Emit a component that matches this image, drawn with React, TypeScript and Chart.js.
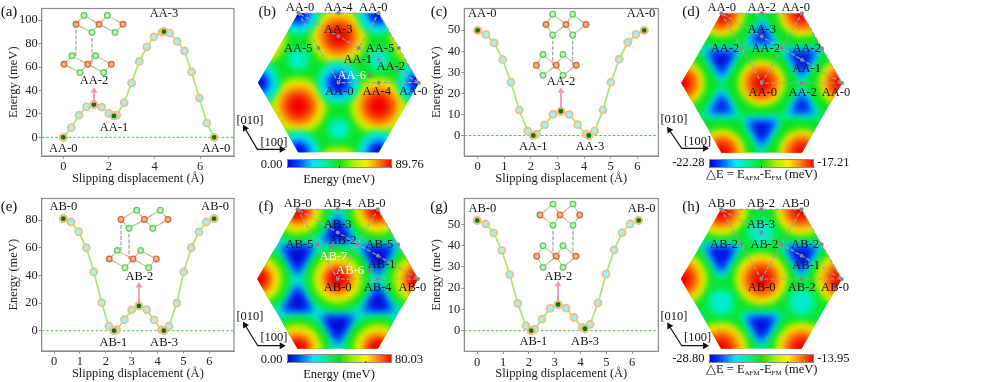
import React, { useEffect, useRef } from "react";
import { Chart, registerables } from "chart.js";
Chart.register(...registerables);

const SERIF = "'Liberation Serif', serif";
const GREY = "#8c8c8c";

// ---------- slipping curves (displacement in Å, energy in meV) ----------
const aX = [0, 0.35, 0.69, 1.02, 1.34, 1.68, 2.0, 2.22, 2.34, 2.67, 2.99, 3.33, 3.66, 3.97, 4.32, 4.41, 4.66, 4.99, 5.31, 5.62, 5.96, 6.29, 6.61];
const aY = [0, 8.3, 19, 26.3, 28, 25.8, 20.4, 18.3, 19, 29.6, 46.5, 64.8, 77.2, 85.8, 89.8, 90.3, 89, 82, 73.9, 55.9, 33.6, 12.1, 0];
const aKeyX = [0, 1.34, 2.22, 4.41, 6.61];
const aKeyY = [0, 28, 18.3, 90.3, 0];

const cX = [0, 0.31, 0.62, 0.94, 1.25, 1.56, 1.88, 2.09, 2.21, 2.51, 2.83, 3.13, 3.44, 3.76, 4.07, 4.18, 4.4, 4.71, 5.01, 5.32, 5.64, 5.95, 6.26];
const cY = [49.9, 48, 44, 36, 25.3, 12.1, 2.1, 0, 0.6, 5, 10, 11.5, 10, 5.1, 0.6, 0, 2.2, 12.1, 25.3, 36.2, 44.2, 48, 49.9];
const cKeyX = [0, 2.09, 3.13, 4.18, 6.26];
const cKeyY = [49.9, 0, 11.5, 0, 49.9];

const eX = [0.36, 0.66, 0.95, 1.25, 1.54, 1.84, 2.12, 2.32, 2.42, 2.72, 3.0, 3.28, 3.58, 3.86, 4.15, 4.24, 4.44, 4.74, 5.01, 5.3, 5.6, 5.88, 6.18];
const eY = [81, 78.6, 71.7, 60, 42.5, 20.3, 3.3, 0, 0.7, 8, 15.1, 17.9, 15.3, 7.8, 0.7, 0, 3.3, 20, 42.5, 60, 71.5, 78.6, 81];
const eKeyX = [0.36, 2.32, 3.28, 4.24, 6.18];
const eKeyY = [81, 0, 17.9, 0, 81];

const gX = [0, 0.33, 0.64, 0.95, 1.26, 1.57, 1.89, 2.09, 2.22, 2.51, 2.82, 3.13, 3.44, 3.75, 4.06, 4.17, 4.37, 4.68, 4.99, 5.3, 5.61, 5.92, 6.25];
const gY = [51.9, 50.2, 46, 37.8, 26.4, 12.8, 2.3, 0, 0.6, 5.4, 10.5, 12.3, 10.6, 6.2, 1.5, 0.9, 2.9, 13.1, 26.7, 38, 46.1, 50.2, 51.9];
const gKeyX = [0, 2.09, 3.13, 4.17, 6.25];
const gKeyY = [51.9, 0, 12.3, 0.9, 51.9];

// ---------- crystal-structure insets (page pixels) ----------
const insetA = {
  orange: [[76, 16.7], [99, 16.7], [123, 16.7], [64, 59], [87.7, 59], [111.3, 59]],
  green: [[84, 7.3], [107.3, 7.3], [92, 25.3], [115, 25.3], [72, 50], [95.7, 50], [80, 67.7], [103.7, 67.7]],
  dash: [[76, 16.7, 76, 50], [92, 25.3, 92, 59]],
};
const insetC = {
  orange: [[546, 17], [566, 17], [586, 17], [536.3, 60], [556.3, 60], [576.3, 60]],
  green: [[552.7, 6], [572.7, 6], [552.7, 28], [572.7, 28], [543, 48.7], [563, 48.7], [543, 70.7], [563, 70.7]],
  dash: [[552.7, 28, 552.7, 60], [572.7, 28, 572.7, 60]],
};
const insetE = {
  orange: [[121, 216.7], [144.3, 216.7], [168, 216.7], [109.3, 257], [133, 257], [156.3, 257]],
  green: [[136.7, 207.3], [160.3, 207.3], [129, 225.7], [152.7, 225.7], [117.3, 248.3], [140.7, 248.3], [125, 266], [148.7, 266]],
  dash: [[121, 216.7, 121, 248.3], [129, 225.7, 129, 257]],
};
const insetG = {
  orange: [[540, 212.7], [560, 212.7], [579.7, 212.7], [536.7, 254.7], [556.3, 254.7], [576, 254.7]],
  green: [[553, 201.7], [573, 201.7], [553, 223.3], [573, 223.3], [543, 244], [563, 244], [543, 266], [563, 266]],
  dash: [[553, 223.3, 553, 254.7], [573, 223.3, 573, 254.7]],
};

const linePanels = [
  { x0: 0, y0: 0, w: 240, h: 190, frame: [41.7, 0, 234, 156], xr: [-0.946, 7.48], yr: [-15.9, 110], xt: [0, 2, 4, 6], yt: [0, 20, 40, 60, 80, 100], xs: aX, ys: aY, kx: aKeyX, ky: aKeyY, inset: insetA, arrow: [94, 100, 94, 87], tx: 137.7, ty: 178.7, yx: 14 },
  { x0: 425, y0: 0, w: 240, h: 190, frame: [464.3, 0, 658.3, 156], xr: [-0.504, 6.79], yr: [-9.74, 60.3], xt: [0, 1, 2, 3, 4, 5, 6], yt: [0, 10, 20, 30, 40, 50], xs: cX, ys: cY, kx: cKeyX, ky: cKeyY, inset: insetC, arrow: [561, 105, 561, 87.3], tx: 561, ty: 178.7, yx: 437 },
  { x0: 0, y0: 190, w: 240, h: 192, frame: [41.7, 195.3, 234, 351], xr: [-0.475, 6.95], yr: [-14.66, 95.6], xt: [0, 1, 2, 3, 4, 5, 6], yt: [0, 20, 40, 60, 80], xs: eX, ys: eY, kx: eKeyX, ky: eKeyY, inset: insetE, arrow: [139, 301.7, 139, 284.3], tx: 137.7, ty: 374, yx: 14 },
  { x0: 425, y0: 190, w: 240, h: 192, frame: [464.3, 196, 658.3, 351.3], xr: [-0.5, 7.01], yr: [-9.72, 62.2], xt: [0, 1, 2, 3, 4, 5, 6], yt: [0, 10, 20, 30, 40, 50], xs: gX, ys: gY, kx: gKeyX, ky: gKeyY, inset: insetG, arrow: [558, 300, 558, 283.3], tx: 561, ty: 374, yx: 437 },
];

// ---------- potential-energy surfaces: lattice sites and contour levels ----------
const sitesA = [[0, 0], [-1, 0], [1, 0], [-0.5, 0.866], [0.5, 0.866], [-0.5, -0.866], [0.5, -0.866]];
const sitesB = [[-0.5, 0.289], [0.5, 0.289], [0, -0.577], [-1, -0.577], [1, -0.577], [0, 1.155], [-1.5, 0.289], [1.5, 0.289]];
const sitesC = [[0, 0.577], [-0.5, -0.289], [0.5, -0.289], [-1, 0.577], [1, 0.577], [-1.5, -0.289], [1.5, -0.289], [0, -1.155], [-1, -1.155], [1, -1.155]];

// [level, contour radius in lattice units], outer to inner
const bPeak = [[56, 0.36], [67, 0.3], [76, 0.25], [83, 0.19], [89.76, 0.12]];
const bWell = [[31, 0.27], [22, 0.21], [11, 0.15], [0, 0.09]];
const bShallow = [[34, 0.15], [25, 0.08]];
const dPeak = [[-19.14, 0.29], [-18.48, 0.26], [-17.97, 0.22], [-17.57, 0.17], [-17.21, 0.1]];
const dDeep = [[-20.35, 0.33], [-21, 0.285], [-21.67, 0.235], [-22.18, 0.15]];
const dWell = [[-20.35, 0.29], [-21, 0.245], [-21.67, 0.19], [-22.1, 0.1]];
const fPeak = [[28, 0.45], [34, 0.41], [40, 0.37], [50, 0.31], [60, 0.26], [70, 0.2], [80.03, 0.13]];
const fDeep = [[12, 0.27], [5, 0.21], [0, 0.13]];
const fWell = [[12, 0.25], [5, 0.19], [1, 0.12]];
const hPeak = [[-19.6, 0.33], [-17.7, 0.29], [-16.2, 0.24], [-15, 0.18], [-13.95, 0.11]];
const hDeep = [[-23.2, 0.33], [-25.1, 0.285], [-27.3, 0.235], [-28.5, 0.15]];
const hShallow = [[-23.2, 0.18], [-24.6, 0.11]];

const pathMain = [[-0.5, 0.866], [0.5, 0.866], [1, 0], [0, 0], [-0.5, 0.866], [1, 0], null, [0, 0], [0.5, 0.866]];
const pathDots = [[-0.5, 0.866], [0, 0.866], [0.5, 0.866], [0, 0.577], [-0.25, 0.433], [0.25, 0.433], [0.75, 0.433], [0.5, 0.289], [1, 0], [0.5, 0], [0, 0]];

const heatPanels = [
  { cx: 338.5, cy: 82.7, x0: 240, y0: 0, w: 200, h: 190, min: 0, max: 89.76, back: 43, bar: [287, 159, 391.7, 168.3], arrow: [257.3, 149.3, 281.7, 149.3, 245, 128.3], dotsExtra: [[0.73, 0.15]], tri: [[0.39, 0.09]],
    layers: [[sitesC, bPeak, "circle", 0], [sitesA, bWell, "circle", 0], [sitesB, bShallow, "circle", 0]] },
  { cx: 761.7, cy: 83, x0: 664, y0: 0, w: 200, h: 190, min: -22.28, max: -17.21, back: -19.85, bar: [709, 159, 814, 168.3], arrow: [681.7, 148.3, 705, 148.3, 669.3, 130], dotsExtra: [], tri: [],
    layers: [[sitesA, dPeak, "circle", 0], [sitesB, dDeep, "triangle", 180], [sitesC, dWell, "triangle", 0]] },
  { cx: 337.7, cy: 279, x0: 240, y0: 190, w: 200, h: 192, min: 0, max: 80.03, back: 24, bar: [287, 354.3, 391.7, 363.7], arrow: [257.7, 345.7, 281.7, 345.7, 245, 325], dotsExtra: [], tri: [[-0.07, 0.4], [0.4, 0.1]],
    layers: [[sitesA, fPeak, "circle", 0], [sitesB, fDeep, "triangle", 180], [sitesC, fWell, "triangle", 0]] },
  { cx: 761.3, cy: 279, x0: 664, y0: 190, w: 200, h: 192, min: -28.8, max: -13.95, back: -21.8, bar: [709, 354.3, 814, 363.7], arrow: [681.7, 345.7, 705, 345.7, 669.3, 326], dotsExtra: [], tri: [],
    layers: [[sitesA, hPeak, "circle", 0], [sitesB, hDeep, "triangle", 180], [sitesC, hShallow, "circle", 0]] },
];
const UNIT = 80.4;

// ---------- text ----------
const Z = (ox: number, oy: number, s = 3) => (list: any[]) => list.map(([t, x, y, c]) => [t, x / s + ox, y / s + oy, c]);
const textLabels = [
  ...Z(0, 0)([["AA-0", 190, 445], ["AA-2", 282, 240], ["AA-1", 342, 380], ["AA-3", 492, 38], ["AA-0", 648, 445]]),
  ...Z(440, 0)([["AA-0", 127, 38], ["AA-1", 280, 438]]),
  ...Z(500, 0)([["AA-2", 183, 243], ["AA-3", 270, 438], ["AA-0", 423, 38]]),
  ...Z(0, 190)([["AB-0", 190, 47], ["AB-2", 418, 258], ["AB-1", 340, 455], ["AB-3", 492, 455], ["AB-0", 645, 47]]),
  ...Z(440, 190)([["AB-0", 127, 53], ["AB-1", 280, 452]]),
  ...Z(500, 190)([["AB-2", 175, 258], ["AB-3", 255, 452], ["AB-0", 425, 53]]),
  ...Z(245, 0)([["AA-0", 165, 20], ["AA-4", 280, 20], ["AA-0", 385, 20], ["AA-3", 280, 87], ["AA-5", 160, 143], ["AA-5", 405, 143], ["AA-1", 338, 176], ["AA-2", 437, 198], ["AA-6", 320, 224, "#fff"], ["AA-0", 283, 272], ["AA-4", 395, 272], ["AA-0", 505, 272],
    ["0.00", 80, 491], ["89.76", 494, 491], ["Energy (meV)", 282, 537], ["[010]", 15, 360], ["[100]", 87, 425]]),
  ...Z(660, 0)([["AA-0", 185, 20], ["AA-2", 305, 20], ["AA-0", 407, 20], ["AA-3", 305, 88], ["AA-2", 195, 143], ["AA-2", 317, 143], ["AA-2", 440, 143], ["AA-1", 440, 205], ["AA-0", 308, 275], ["AA-2", 428, 275], ["AA-0", 528, 275],
    ["-22.28", 85, 487], ["-17.21", 520, 487], ["[010]", 42, 358], ["[100]", 113, 422]]),
  ...Z(245, 190)([["AB-0", 158, 39], ["AB-4", 278, 39], ["AB-0", 380, 39], ["AB-3", 278, 103], ["AB-5", 163, 161], ["AB-2", 293, 150], ["AB-5", 403, 161], ["AB-7", 265, 198, "#fff"], ["AB-1", 410, 223], ["AB-6", 315, 241, "#fff"], ["AB-0", 278, 291], ["AB-4", 398, 291], ["AB-0", 502, 291],
    ["0.00", 80, 507], ["80.03", 492, 507], ["Energy (meV)", 282, 553], ["[010]", 15, 378], ["[100]", 87, 441]]),
  ...Z(660, 190)([["AB-0", 185, 39], ["AB-2", 303, 39], ["AB-0", 407, 39], ["AB-3", 303, 103], ["AB-2", 192, 161], ["AB-2", 313, 161], ["AB-2", 435, 161], ["AB-1", 438, 224], ["AB-0", 305, 291], ["AB-2", 425, 291], ["AB-0", 525, 291],
    ["-28.80", 85, 503], ["-13.95", 520, 503], ["[010]", 42, 378], ["[100]", 113, 441]]),
];
const panelLetters = [["(a)", 9, 10.7], ["(b)", 267.3, 10.7], ["(c)", 439, 10.7], ["(d)", 691, 11], ["(e)", 9, 205.7], ["(f)", 266, 205.7], ["(g)", 439, 205.7], ["(h)", 691, 205.7]];
const deltaTitles = [[761.7, 175], [761.7, 370.3]];

// ---------- colour scale ----------
const jetStops: [number, number[]][] = [
  [0, [0, 0, 208]], [0.1, [0, 64, 255]], [0.25, [0, 232, 255]], [0.375, [0, 240, 144]], [0.5, [16, 224, 16]],
  [0.625, [160, 240, 0]], [0.75, [248, 240, 0]], [0.875, [255, 128, 0]], [1, [240, 0, 0]],
];
const jet = (t: number) => {
  const v = Math.min(1, Math.max(0, t));
  for (let i = 1; i < jetStops.length; i++) {
    if (v <= jetStops[i][0]) {
      const [a, ca] = jetStops[i - 1];
      const [b, cb] = jetStops[i];
      const f = (v - a) / (b - a);
      return `rgb(${ca.map((c, k) => Math.round(c + (cb[k] - c) * f)).join(",")})`;
    }
  }
  return "rgb(240,0,0)";
};

const framePlugin = {
  id: "frame",
  beforeDatasetsDraw(chart: any) {
    const o = chart.options.plugins.frame;
    if (!o || !o.show) return;
    const { left, top, right, bottom } = chart.chartArea;
    const c = chart.ctx;
    c.save();
    c.strokeStyle = GREY;
    c.lineWidth = 1.2;
    c.strokeRect(left, top, right - left, bottom - top);
    c.restore();
  },
};

const arrowDataset = (pts: number[][], color: string, width: number, size: number, ids: [string, string]) => {
  // pts: list of points; a point with third item is an arrow head pointing that many degrees
  return {
    type: "line",
    xAxisID: ids[0],
    yAxisID: ids[1],
    data: pts.map((p) => ({ x: p[0], y: p[1], rot: p[2] })),
    borderColor: color,
    backgroundColor: color,
    borderWidth: width,
    pointBorderWidth: 0,
    pointStyle: "triangle",
    pointRadius: (ctx: any) => (ctx.raw && ctx.raw.rot !== undefined ? size : 0),
    pointRotation: (ctx: any) => (ctx.raw ? ctx.raw.rot || 0 : 0),
    order: 0,
    clip: false,
    tension: 0,
  };
};

function buildInset(inset: any) {
  const bondsO: any[] = [];
  const bondsG: any[] = [];
  inset.green.forEach((g: number[]) => {
    inset.orange.forEach((o: number[]) => {
      if (Math.hypot(g[0] - o[0], g[1] - o[1]) < 20) {
        const m = { x: (g[0] + o[0]) / 2, y: (g[1] + o[1]) / 2 };
        bondsO.push({ x: o[0], y: o[1] }, m, { x: m.x, y: null });
        bondsG.push({ x: g[0], y: g[1] }, m, { x: m.x, y: null });
      }
    });
  });
  const dash: any[] = [];
  inset.dash.forEach((d: number[]) => dash.push({ x: d[0], y: d[1] }, { x: d[2], y: d[3] }, { x: d[2], y: null }));
  const common = { type: "line", xAxisID: "px", yAxisID: "py", pointRadius: 0, spanGaps: false, clip: false };
  const atoms = (list: number[][], fill: string, edge: string) => ({
    type: "scatter", xAxisID: "px", yAxisID: "py", data: list.map(([x, y]) => ({ x, y })),
    backgroundColor: fill, borderColor: edge, borderWidth: 1.3, pointRadius: 2.8, clip: false, order: 1,
  });
  return [
    atoms(inset.orange, "#f0b48c", "#cf6d35"),
    atoms(inset.green, "#c6f2c0", "#66c765"),
    { ...common, data: bondsO, borderColor: "#e2a27c", borderWidth: 1.2, order: 2 },
    { ...common, data: bondsG, borderColor: "#9fe08c", borderWidth: 1.2, order: 2 },
    { ...common, data: dash, borderColor: "#a9a9a9", borderWidth: 1.3, borderDash: [4, 1.5], order: 2 },
  ];
}

function LinePanel({ p }: { p: any }) {
  const ref = useRef<HTMLCanvasElement>(null);
  useEffect(() => {
    const [L, T, R, B] = p.frame;
    const font = { family: SERIF, size: 12.5 };
    const chart = new Chart(ref.current as any, {
      type: "line",
      data: {
        datasets: [
          ...(buildInset(p.inset) as any[]),
          arrowDataset([[p.arrow[0], p.arrow[1]], [p.arrow[2], p.arrow[3], 0]], "#ff8fb8", 1.8, 3.8, ["px", "py"]),
          {
            data: p.kx.map((x: number, i: number) => ({ x, y: p.ky[i] })), showLine: false,
            backgroundColor: "#067a10", borderColor: "#edbf86", borderWidth: 2, pointRadius: 3.4, order: 3, clip: false,
          },
          {
            data: p.xs.map((x: number, i: number) => ({ x, y: p.ys[i] })), tension: 0,
            borderColor: "#a7ea72", borderWidth: 1.8,
            backgroundColor: "#a0f2f6", pointBorderColor: "#edbf86", pointBorderWidth: 1.8, pointRadius: 3.5, order: 4, clip: false,
          },
          {
            data: [{ x: p.xr[0], y: 0 }, { x: p.xr[1], y: 0 }], borderColor: "#4fbf4f", borderWidth: 1, borderDash: [2.5, 2], pointRadius: 0, order: 5,
          },
        ],
      } as any,
      options: {
        responsive: false,
        animation: false,
        devicePixelRatio: 1,
        layout: { autoPadding: false, padding: { left: 0, top: T - p.y0, right: p.x0 + p.w - R, bottom: 0 } },
        plugins: { legend: { display: false }, tooltip: { enabled: false }, frame: { show: true } } as any,
        scales: {
          x: {
            type: "linear", min: p.xr[0], max: p.xr[1],
            afterBuildTicks: (s: any) => { s.ticks = p.xt.map((value: number) => ({ value })); },
            afterFit: (s: any) => { s.height = p.y0 + p.h - B; },
            grid: { display: true, drawOnChartArea: false, drawTicks: true, tickLength: 2.5, color: GREY },
            border: { color: GREY },
            ticks: { font, color: "#222", maxRotation: 0, padding: 1, autoSkip: false },
            title: { display: true, text: "Slipping displacement (Å)", font, color: "#222", padding: { top: 0, bottom: p.y0 + p.h - p.ty - 7.5 } },
          },
          y: {
            type: "linear", min: p.yr[0], max: p.yr[1],
            afterBuildTicks: (s: any) => { s.ticks = p.yt.map((value: number) => ({ value })); },
            afterFit: (s: any) => { s.width = L - p.x0; },
            grid: { display: true, drawOnChartArea: false, drawTicks: true, tickLength: 3, color: GREY },
            border: { color: GREY },
            ticks: { font, color: "#222", padding: 1, autoSkip: false },
            title: { display: true, text: "Energy (meV)", font, color: "#222", padding: { top: p.yx - p.x0 - 7.5, bottom: 0 } },
          },
          px: { type: "linear", display: false, min: L, max: R },
          py: { type: "linear", display: false, reverse: true, min: T, max: B },
        },
      } as any,
      plugins: [framePlugin],
    });
    return () => chart.destroy();
  }, []);
  return <canvas ref={ref} width={p.w} height={p.h} style={{ position: "absolute", left: p.x0, top: p.y0, display: "block" }} />;
}

const heatPlugin = {
  id: "heatClip",
  beforeDatasetDraw(chart: any, args: any) {
    if (args.meta.type !== "bubble") return;
    const o = chart.options.plugins.heatClip;
    const c = chart.ctx;
    const sx = chart.scales.x;
    const sy = chart.scales.y;
    const hex = [[-1, 0], [-0.5, 0.866], [0.5, 0.866], [1, 0], [0.5, -0.866], [-0.5, -0.866]];
    c.save();
    c.beginPath();
    hex.forEach(([x, y], i) => {
      const X = sx.getPixelForValue(x);
      const Y = sy.getPixelForValue(y);
      if (i) c.lineTo(X, Y);
      else c.moveTo(X, Y);
    });
    c.closePath();
    c.clip();
    c.fillStyle = o.back;
    c.fill();
    c.filter = "blur(3.5px)";
  },
  afterDatasetDraw(chart: any, args: any) {
    if (args.meta.type !== "bubble") return;
    chart.ctx.filter = "none";
    chart.ctx.restore();
  },
};

function HeatPanel({ p }: { p: any }) {
  const ref = useRef<HTMLCanvasElement>(null);
  useEffect(() => {
    const cells: any[] = [];
    p.layers.forEach(([sites, levels, shape, rot]: any[]) => {
      levels.forEach(([v, rad]: number[]) => {
        sites.forEach(([x, y]: number[]) => cells.push({ x, y, r: rad * UNIT, v, shape, rot }));
      });
    });
    const span = p.max - p.min;
    const guide = pathMain.map((q: any) => (q ? { x: q[0], y: q[1] } : { x: 0, y: null }));
    const [ox, oy, ax, ay, bx, by] = p.arrow;
    const rotB = (Math.atan2(bx - ox, -(by - oy)) * 180) / Math.PI;
    const chart = new Chart(ref.current as any, {
      type: "bubble",
      data: {
        datasets: [
          arrowDataset([[bx, by, rotB], [ox, oy], [ax, ay, 90]], "#111", 1.2, 4, ["px", "py"]),
          {
            type: "scatter", data: p.tri.map(([x, y]: number[]) => ({ x, y })), pointStyle: "triangle",
            pointRadius: 3.4, backgroundColor: "#888", borderWidth: 0, order: 1,
          },
          {
            type: "scatter", data: [...pathDots, ...p.dotsExtra].map(([x, y]: number[]) => ({ x, y })),
            pointRadius: 2, backgroundColor: "#888", borderWidth: 0, order: 1, clip: false,
          },
          {
            type: "line", data: guide, borderColor: "#a4a4a4", borderWidth: 1.2, borderDash: [4, 2], pointRadius: 0, spanGaps: false, order: 2, clip: false,
          },
          {
            type: "bubble", data: cells, order: 10, clip: false, borderWidth: 0,
            backgroundColor: (ctx: any) => (ctx.raw ? jet((ctx.raw.v - p.min) / span) : "#000"),
            pointStyle: (ctx: any) => (ctx.raw ? ctx.raw.shape : "circle"),
            rotation: (ctx: any) => (ctx.raw ? ctx.raw.rot : 0),
          },
        ],
      } as any,
      options: {
        responsive: false,
        animation: false,
        devicePixelRatio: 1,
        layout: { autoPadding: false, padding: 0 },
        plugins: { legend: { display: false }, tooltip: { enabled: false }, heatClip: { back: jet((p.back - p.min) / span) } } as any,
        scales: {
          x: { type: "linear", display: false, min: (p.x0 - p.cx) / UNIT, max: (p.x0 + p.w - p.cx) / UNIT },
          y: { type: "linear", display: false, min: (p.cy - p.y0 - p.h) / UNIT, max: (p.cy - p.y0) / UNIT },
          px: { type: "linear", display: false, min: p.x0, max: p.x0 + p.w },
          py: { type: "linear", display: false, reverse: true, min: p.y0, max: p.y0 + p.h },
        },
      } as any,
      plugins: [heatPlugin],
    });
    return () => chart.destroy();
  }, []);
  return <canvas ref={ref} width={p.w} height={p.h} style={{ position: "absolute", left: p.x0, top: p.y0, display: "block" }} />;
}

const barTicks = {
  id: "barTicks",
  afterDatasetsDraw(chart: any) {
    const c = chart.ctx;
    const s = chart.scales.x;
    const { top, bottom, left, right } = chart.chartArea;
    c.save();
    c.strokeStyle = GREY;
    c.lineWidth = 1;
    c.strokeRect(left + 0.5, top + 0.5, right - left - 1, bottom - top - 1);
    c.strokeStyle = "#333";
    s.ticks.forEach((t: any) => {
      const X = s.getPixelForValue(t.value);
      c.beginPath();
      c.moveTo(X, bottom);
      c.lineTo(X, bottom - 2);
      c.stroke();
    });
    c.restore();
  },
};

function ColorBar({ p }: { p: any }) {
  const ref = useRef<HTMLCanvasElement>(null);
  const [l, t, r, b] = p.bar;
  const w = Math.round(r - l);
  const h = Math.round(b - t);
  useEffect(() => {
    const chart = new Chart(ref.current as any, {
      type: "bar",
      data: {
        labels: ["scale"],
        datasets: [{
          data: [[p.min, p.max]], barPercentage: 1, categoryPercentage: 1, borderWidth: 0,
          backgroundColor: (ctx: any) => {
            const g = ctx.chart.ctx.createLinearGradient(0, 0, w, 0);
            jetStops.forEach(([s]) => g.addColorStop(s, jet(s)));
            return g;
          },
        }],
      },
      options: {
        indexAxis: "y",
        responsive: false,
        animation: false,
        devicePixelRatio: 1,
        layout: { padding: 0 },
        plugins: { legend: { display: false }, tooltip: { enabled: false } },
        scales: {
          x: { type: "linear", display: false, min: p.min, max: p.max, ticks: { stepSize: (p.max - p.min) / 4 } },
          y: { display: false },
        },
      } as any,
      plugins: [barTicks],
    });
    return () => chart.destroy();
  }, []);
  return <canvas ref={ref} width={w} height={h} style={{ position: "absolute", left: l, top: t, display: "block" }} />;
}

const textStyle = (x: number, y: number, size: number, color = "#111"): React.CSSProperties => ({
  position: "absolute", left: x, top: y, transform: "translate(-50%,-50%)", font: `${size}px ${SERIF}`, color, whiteSpace: "nowrap", lineHeight: 1,
});

export default function App() {
  return (
    <div style={{ position: "fixed", left: 0, top: 0, width: 997, height: 382, background: "#fff", overflow: "hidden" }}>
      {heatPanels.map((p, i) => <HeatPanel key={"h" + i} p={p} />)}
      {heatPanels.map((p, i) => <ColorBar key={"b" + i} p={p} />)}
      {linePanels.map((p, i) => <LinePanel key={"l" + i} p={p} />)}
      {textLabels.map(([t, x, y, c], i) => <span key={"t" + i} style={textStyle(x, y, 12.5, c)}>{t}</span>)}
      {panelLetters.map(([t, x, y]: any, i) => <span key={"p" + i} style={textStyle(x, y, 15)}>{t}</span>)}
      {deltaTitles.map(([x, y], i) => (
        <span key={"d" + i} style={textStyle(x, y, 12.5)}>
          △E = E<sub style={{ fontSize: 7, verticalAlign: -2 }}>AFM</sub>-E<sub style={{ fontSize: 7, verticalAlign: -2 }}>FM</sub> (meV)
        </span>
      ))}
    </div>
  );
}
